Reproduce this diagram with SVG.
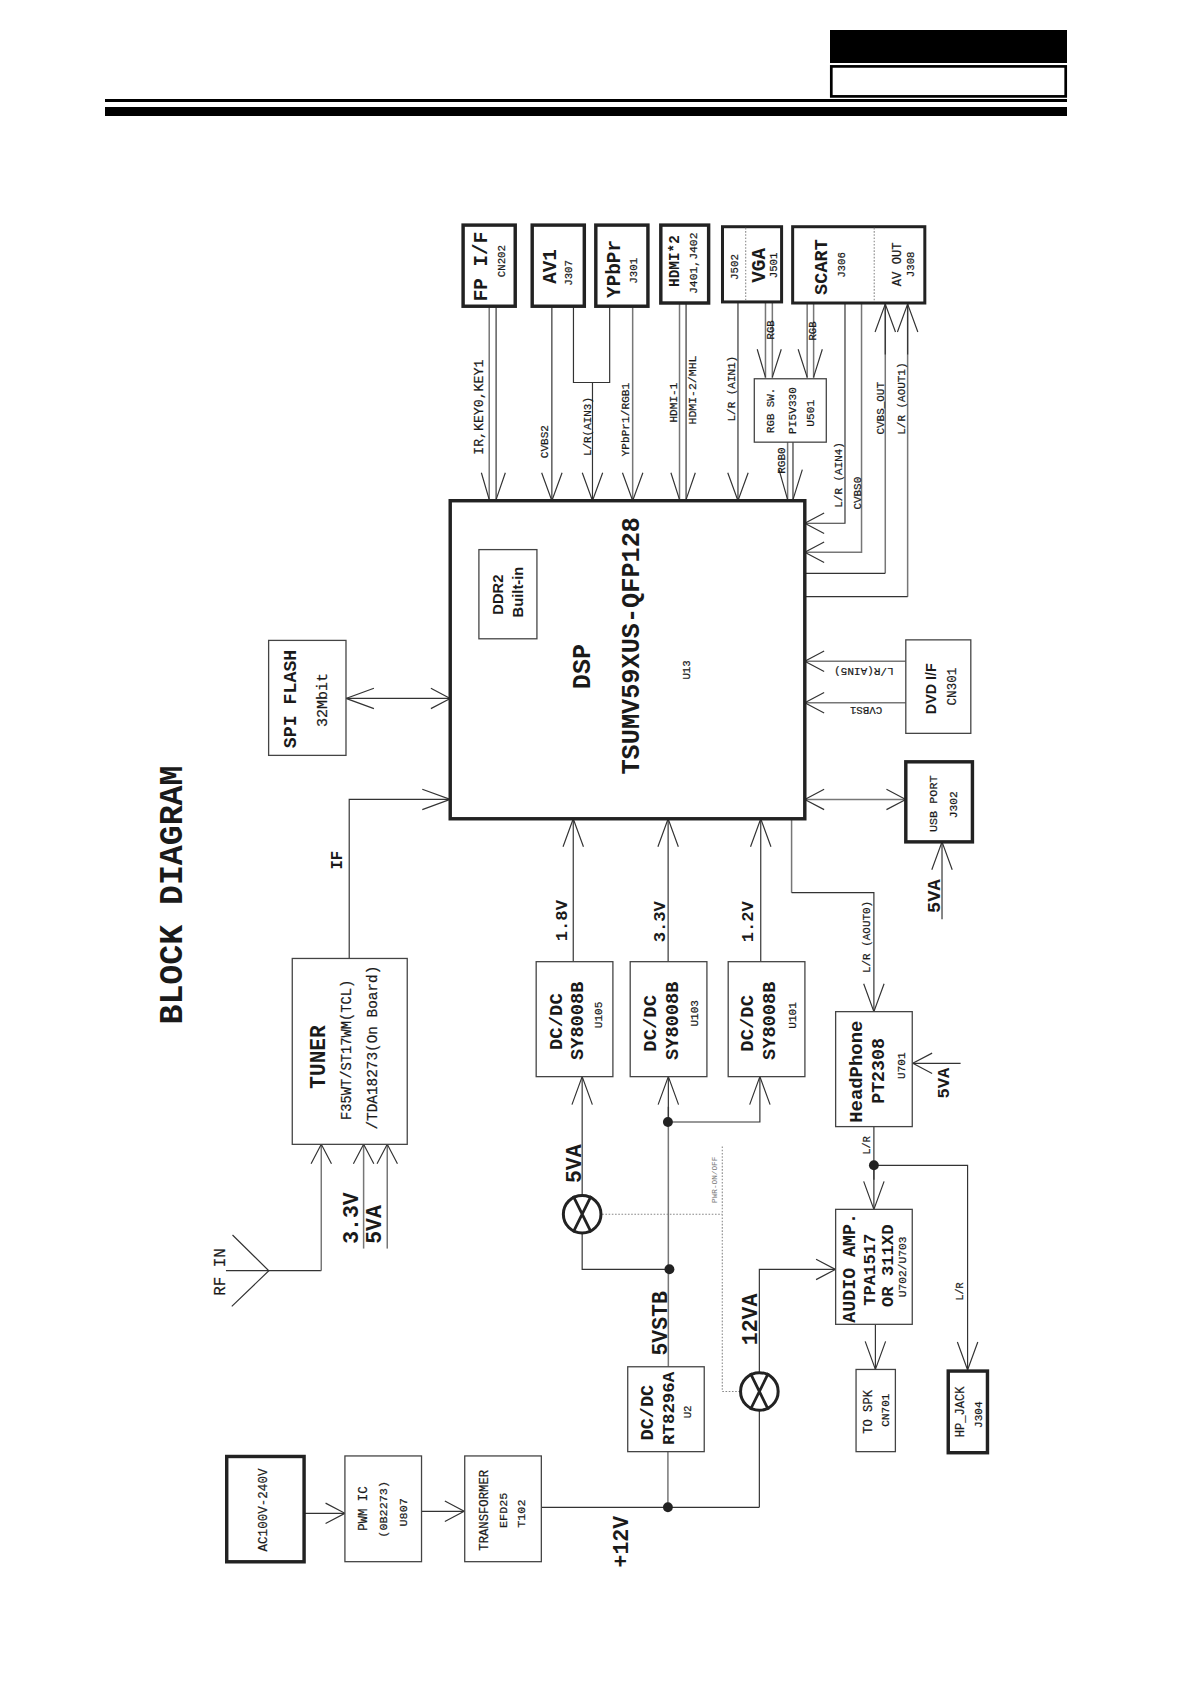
<svg xmlns="http://www.w3.org/2000/svg" width="1190" height="1684" viewBox="0 0 1190 1684">
<style>
text{font-family:"Liberation Mono","DejaVu Sans Mono",monospace;text-anchor:middle;fill:#1a1a1a;stroke:#1a1a1a;stroke-width:.2}
.b{font-weight:bold;stroke-width:0}
.s{font-family:"Liberation Sans",Arial,sans-serif;font-weight:bold;stroke-width:0}
.box{fill:#fff;stroke:#444;stroke-width:1.2}
.hv{fill:#fff;stroke:#222;stroke-width:3.2}
.c{fill:none;stroke:#333;stroke-width:1.1}
.g{fill:none;stroke:#777;stroke-width:1.4}
.ar{marker-end:url(#a)}
.as{marker-end:url(#b)}
.d{fill:none;stroke:#888;stroke-width:1;stroke-dasharray:1.5 1.5}
.j{fill:#222}
.sw{fill:#fff;stroke:#222;stroke-width:2.8}
.f{fill:#777;stroke-width:0}
</style>
<defs>
<marker id="a" markerUnits="userSpaceOnUse" viewBox="0 0 28 22" markerWidth="28" markerHeight="22" refX="27" refY="11" orient="auto-start-reverse"><path d="M1,1.5L27,11L1,20.5" fill="none" stroke="#333" stroke-width="1.1"/></marker>
<marker id="b" markerUnits="userSpaceOnUse" viewBox="0 0 20 22" markerWidth="20" markerHeight="22" refX="19" refY="11" orient="auto-start-reverse"><path d="M1,1.5L19,11L1,20.5" fill="none" stroke="#333" stroke-width="1.1"/></marker>
</defs>
<g id="header">
<rect x="830" y="30" width="237" height="33" fill="#000"/>
<rect x="831.3" y="66.4" width="234.4" height="30" fill="#fff" stroke="#000" stroke-width="2.7"/>
<rect x="105" y="99" width="962" height="3" fill="#000"/>
<rect x="105" y="107" width="962" height="9" fill="#000"/>
</g>
<g transform="scale(1.0745)">
<g id="connectors">
<path class="g" d="M455.3,285V466"/><path class="c" d="M461.7,285V466"/>
<path class="c" d="M448,440L455.3,465M470.3,440L461.7,465"/>
<path class="c ar" d="M513.6,285V466"/>
<path class="c" d="M533.7,285V356H567.4V285"/>
<path class="c ar" d="M551.4,356V466"/>
<path class="g ar" d="M588.8,285V466"/>
<path class="g" d="M632.4,282V466"/><path class="c" d="M638.5,282V466"/>
<path class="c" d="M624.4,440L632.4,465M647.1,440L638.5,465"/>
<path class="c ar" d="M686.8,281V466"/>
<path class="g" d="M712.4,281V352M718.8,281V352"/>
<path class="c" d="M704.7,325L712.4,351M727.1,325L718.8,351"/>
<path class="g" d="M751.2,282V352M757.2,282V352"/>
<path class="c" d="M742.8,325L751.2,351M765.3,325L757.2,351"/>
<path class="g" d="M733,411V466"/><path class="c" d="M738,411V466"/>
<path class="c" d="M725,437L733,465M746.7,437L738,465"/>
<path class="c as" d="M786.4,282V487H749"/>
<path class="g as" d="M801.8,282V514H749"/>
<path class="g" d="M823.9,533.6V283"/>
<path class="c" d="M749,533.6H823.9"/>
<path class="c ar" d="M823.9,330V283"/>
<path class="g" d="M844.7,283V555.3"/><path class="c" d="M844.7,555.3H749"/>
<path class="c ar" d="M844.7,330V283"/>
<path class="g as" d="M843,615.4H749"/>
<path class="g as" d="M843,654H749"/>
<path class="g" d="M843,744H749" style="marker-start:url(#b);marker-end:url(#b)"/>
<path class="c ar" d="M876.7,855.6V783.5"/>
<path class="c" d="M322,650H419" style="marker-start:url(#a);marker-end:url(#b)"/>
<path class="c" d="M325,892V744H419" style="marker-end:url(#a)"/>
<path class="c ar" d="M533.5,895V762"/>
<path class="c ar" d="M621.8,895V762"/>
<path class="c ar" d="M708,895V762"/>
<path class="g" d="M736.7,762V830.8"/>
<path class="c ar" d="M736.7,830.8H813.3V941.5"/>
<path class="c as" d="M894,989.6H849.5"/>
<path class="c ar" d="M541.8,1112V1002"/>
<path class="c" d="M541.8,1148V1181.3H622"/>
<path class="g" d="M622,1272V1030"/>
<path class="c ar" d="M622,1044V1002"/>
<path class="c ar" d="M622,1044.2H707.2V1002"/>
<path class="c" d="M813.3,1048.6V1098"/>
<path class="c ar" d="M813.3,1084.5V1125.5"/>
<path class="c ar" d="M813.3,1084.5H900.5V1275"/>
<path class="c ar" d="M814.7,1232.6V1274.4"/>
<path class="c as" d="M706.7,1277V1181.4H777.5"/>
<path class="c" d="M706.7,1313V1402.8"/>
<path class="c" d="M503.8,1402.8H706.7"/>
<path class="g" d="M621.6,1351V1402.8"/>
<path class="c as" d="M283,1408.4H321"/>
<path class="c as" d="M392.3,1406.5H432"/>
<path class="c" d="M210.3,1182.6H299"/>
<path class="c" d="M216.4,1149.4L250.2,1182.6L215.7,1215.8"/>
<path class="g as" d="M299,1182.6V1065"/>
<path class="g as" d="M338.4,1162V1065"/>
<path class="g as" d="M360.4,1162V1065"/>
<path class="d" d="M560.4,1130H672.2M672.2,1067V1295H688"/>
<circle class="j" cx="621.6" cy="1044.2" r="4.6"/>
<circle class="j" cx="623" cy="1181.3" r="4.6"/>
<circle class="j" cx="621.6" cy="1402.8" r="4.6"/>
<circle class="j" cx="813.3" cy="1084.5" r="4.6"/>
</g>
<g id="fp-if"><rect class="hv" x="431" y="209.5" width="48.5" height="75.5"/>
<text class="b" font-size="18" transform="translate(453.4 248) rotate(-90)">FP I/F</text>
<text font-size="10" transform="translate(469.7 243) rotate(-90)">CN202</text></g>
<g id="av1"><rect class="hv" x="495.3" y="209.5" width="48.5" height="75.5"/>
<text class="b" font-size="18" transform="translate(517.4 248) rotate(-90)">AV1</text>
<text font-size="10" transform="translate(532 254) rotate(-90)">J307</text></g>
<g id="ypbpr"><rect class="hv" x="554.5" y="209.5" width="48.5" height="75.5"/>
<text class="b" font-size="18" transform="translate(577 250.3) rotate(-90)">YPbPr</text>
<text font-size="10" transform="translate(593 252) rotate(-90)">J301</text></g>
<g id="hdmi"><rect class="hv" x="615" y="209.5" width="44.5" height="72.5"/>
<text class="b" font-size="13.4" transform="translate(632 243) rotate(-90)">HDMI*2</text>
<text font-size="10.6" transform="translate(649 245) rotate(-90)">J401,J402</text></g>
<g id="vga"><rect class="sw" x="672.4" y="211" width="55" height="70"/>
<path class="d" d="M694,212V280"/>
<text font-size="10" transform="translate(686.5 248.5) rotate(-90)">J502</text>
<text class="b" font-size="18" transform="translate(711.5 247) rotate(-90)">VGA</text>
<text font-size="10" transform="translate(723 247) rotate(-90)">J501</text></g>
<g id="scart"><rect class="sw" x="737.7" y="211" width="123" height="71"/>
<path class="d" d="M813.6,212V281"/>
<text class="b" font-size="17.3" transform="translate(769.7 248.5) rotate(-90)">SCART</text>
<text font-size="10" transform="translate(786.7 246.6) rotate(-90)">J306</text>
<text font-size="11.4" transform="translate(838.6 246) rotate(-90)">AV OUT</text>
<text font-size="10" transform="translate(850.4 246) rotate(-90)">J308</text></g>
<g id="rgb-sw"><rect class="box" x="702" y="352.5" width="67" height="59"/>
<text font-size="10" transform="translate(720.7 382) rotate(-90)">RGB SW.</text>
<text font-size="10.4" transform="translate(741 382) rotate(-90)">PI5V330</text>
<text font-size="10.4" transform="translate(758 384.6) rotate(-90)">U501</text></g>
<g id="dsp"><rect class="hv" x="419" y="466" width="330" height="296" stroke-width="3.6"/>
<rect class="box" x="445.7" y="511.5" width="54" height="83"/>
<text class="s" font-size="13.7" transform="translate(468 553.4) rotate(-90)">DDR2</text>
<text class="s" font-size="13.7" transform="translate(486.7 551) rotate(-90)">Built-in</text>
<text class="b" font-size="23.3" transform="translate(549 620.4) rotate(-90)">DSP</text>
<text class="b" font-size="23.5" transform="translate(595 601) rotate(-90)">TSUMV59XUS-QFP128</text>
<text font-size="10" transform="translate(641.7 623.5) rotate(-90)">U13</text></g>
<g id="spi-flash"><rect class="box" x="250" y="596" width="72" height="107"/>
<text class="b" font-size="17" transform="translate(275.4 650.5) rotate(-90)">SPI FLASH</text>
<text font-size="14" transform="translate(304.6 651.4) rotate(-90)">32Mbit</text></g>
<g id="tuner"><rect class="box" x="272" y="892" width="107" height="173"/>
<text class="b" font-size="19.7" transform="translate(302.4 983.7) rotate(-90)">TUNER</text>
<text font-size="12.8" transform="translate(326.6 977) rotate(-90)">F35WT/ST17WM(TCL)</text>
<text font-size="13.4" transform="translate(350.5 975) rotate(-90)">/TDA18273(On Board)</text></g>
<g id="dvd-if"><rect class="box" x="843" y="595.5" width="60.5" height="87"/>
<text class="s" font-size="13.3" transform="translate(870.7 641) rotate(-90)">DVD I/F</text>
<text font-size="11.7" transform="translate(890 639) rotate(-90)">CN301</text></g>
<g id="usb-port"><rect class="hv" x="843" y="709" width="62" height="74.5"/>
<text font-size="11" transform="translate(872 748) rotate(-90)">USB PORT</text>
<text font-size="10.5" transform="translate(890.7 749) rotate(-90)">J302</text></g>
<g id="u105"><rect class="box" x="499" y="895" width="71.4" height="107"/>
<text class="b" font-size="17.6" transform="translate(522.6 950.8) rotate(-90)">DC/DC</text>
<text class="b" font-size="17.4" transform="translate(542.4 950) rotate(-90)">SY8008B</text>
<text font-size="10.3" transform="translate(559.8 944.6) rotate(-90)">U105</text></g>
<g id="u103"><rect class="box" x="586.5" y="895" width="71.4" height="107"/>
<text class="b" font-size="17.6" transform="translate(610.7 952.4) rotate(-90)">DC/DC</text>
<text class="b" font-size="17.4" transform="translate(631.2 950) rotate(-90)">SY8008B</text>
<text font-size="10.3" transform="translate(649.5 943) rotate(-90)">U103</text></g>
<g id="u101"><rect class="box" x="677.7" y="895" width="71.4" height="107"/>
<text class="b" font-size="17.6" transform="translate(700.7 952.4) rotate(-90)">DC/DC</text>
<text class="b" font-size="17.4" transform="translate(720.9 950) rotate(-90)">SY8008B</text>
<text font-size="10.3" transform="translate(740.4 945) rotate(-90)">U101</text></g>
<g id="headphone"><rect class="box" x="777.7" y="941.5" width="71.3" height="107"/>
<text class="b" font-size="17.6" transform="translate(801.9 997.4) rotate(-90)">HeadPhone</text>
<text class="b" font-size="17" transform="translate(822.7 996.7) rotate(-90)">PT2308</text>
<text font-size="10.3" transform="translate(841.9 991.8) rotate(-90)">U701</text></g>
<g id="audio-amp"><rect class="box" x="777.7" y="1125.5" width="71.3" height="107"/>
<text class="b" font-size="17" transform="translate(795.7 1180) rotate(-90)">AUDIO AMP.</text>
<text class="b" font-size="16" transform="translate(814.4 1181.7) rotate(-90)">TPA1517</text>
<text class="b" font-size="16" transform="translate(830.8 1178) rotate(-90)">OR 311XD</text>
<text font-size="10.5" transform="translate(842.9 1179) rotate(-90)">U702/U703</text></g>
<g id="to-spk"><rect class="box" x="796.7" y="1274.5" width="36.6" height="76.5"/>
<text font-size="11.3" transform="translate(811.9 1314) rotate(-90)">TO SPK</text>
<text font-size="10.3" transform="translate(827.4 1312.3) rotate(-90)">CN701</text></g>
<g id="hp-jack"><rect class="hv" x="882.5" y="1276" width="36.5" height="76"/>
<text font-size="11.3" transform="translate(897.5 1314) rotate(-90)">HP_JACK</text>
<text font-size="10.3" transform="translate(913.6 1316.6) rotate(-90)">J304</text></g>
<g id="u2"><rect class="box" x="584.2" y="1272" width="71.2" height="79"/>
<text class="b" font-size="17.3" transform="translate(608.1 1314.7) rotate(-90)">DC/DC</text>
<text class="b" font-size="16.2" transform="translate(627.7 1310.7) rotate(-90)">RT8296A</text>
<text font-size="10" transform="translate(643 1314) rotate(-90)">U2</text></g>
<g id="ac-input"><rect class="hv" x="211" y="1355.5" width="72" height="98" stroke-width="3.4"/>
<text font-size="11.7" transform="translate(248.4 1405.3) rotate(-90)">AC100V-240V</text></g>
<g id="pwm-ic"><rect class="box" x="321" y="1355" width="71.3" height="98.4"/>
<text font-size="11.5" transform="translate(341.7 1404) rotate(-90)">PWM IC</text>
<text font-size="11" transform="translate(360.6 1404.7) rotate(-90)">(0B2273)</text>
<text font-size="11" transform="translate(378.4 1407.5) rotate(-90)">U807</text></g>
<g id="transformer"><rect class="box" x="432.5" y="1355" width="71.3" height="98.4"/>
<text font-size="11.4" transform="translate(454.2 1405.6) rotate(-90)">TRANSFORMER</text>
<text font-size="11" transform="translate(472 1405.6) rotate(-90)">EFD25</text>
<text font-size="11" transform="translate(488.8 1408.7) rotate(-90)">T102</text></g>
<g id="switch-5va"><circle cx="541.8" cy="1130" r="17.5" fill="#fff" stroke="#222" stroke-width="2.8"/>
<path d="M533.4,1113L550.2,1147M550.2,1113L533.4,1147" fill="none" stroke="#222" stroke-width="2.6"/></g>
<g id="switch-12va"><circle cx="706.7" cy="1295" r="17.5" fill="#fff" stroke="#222" stroke-width="2.8"/>
<path d="M698.3,1278L715.1,1312M715.1,1278L698.3,1312" fill="none" stroke="#222" stroke-width="2.6"/></g>
<g id="labels">
<text class="b" font-size="30.9" transform="translate(169.4 833) rotate(-90)">BLOCK DIAGRAM</text>
<text font-size="14.7" transform="translate(209.2 1183.8) rotate(-90)">RF IN</text>
<text class="b" font-size="14.7" transform="translate(318 800.5) rotate(-90)">IF</text>
<text class="b" font-size="20" transform="translate(333.4 1133.6) rotate(-90)">3.3V</text>
<text class="b" font-size="20" transform="translate(355 1139.6) rotate(-90)">5VA</text>
<text font-size="12.3" transform="translate(449.5 379) rotate(-90)">IR,KEY0,KEY1</text>
<text font-size="10.3" transform="translate(510.4 411) rotate(-90)">CVBS2</text>
<text font-size="10.2" transform="translate(549.8 397) rotate(-90)">L/R(AIN3)</text>
<text font-size="10.4" transform="translate(585.6 390.5) rotate(-90)">YPbPr1/RGB1</text>
<text font-size="10.3" transform="translate(630 374.7) rotate(-90)">HDMI-1</text>
<text font-size="10.7" transform="translate(648 363) rotate(-90)">HDMI-2/MHL</text>
<text font-size="10.2" transform="translate(684 361.7) rotate(-90)">L/R (AIN1)</text>
<text font-size="10" transform="translate(720 307) rotate(-90)">RGB</text>
<text font-size="10" transform="translate(759 308) rotate(-90)">RGB</text>
<text font-size="10.3" transform="translate(731 428.6) rotate(-90)">RGB0</text>
<text font-size="10.2" transform="translate(784 442) rotate(-90)">L/R (AIN4)</text>
<text font-size="10.2" transform="translate(801 459) rotate(-90)">CVBS0</text>
<text font-size="10.2" transform="translate(822.6 380) rotate(-90)">CVBS_OUT</text>
<text font-size="10.2" transform="translate(841.8 371) rotate(-90)">L/R (AOUT1)</text>
<text font-size="10.3" transform="translate(804 621.3) rotate(180)">L/R(AIN5)</text>
<text font-size="10" transform="translate(806 658) rotate(180)">CVBS1</text>
<text class="b" font-size="16" transform="translate(527.9 856.8) rotate(-90)">1.8V</text>
<text class="b" font-size="16" transform="translate(618.8 857.8) rotate(-90)">3.3V</text>
<text class="b" font-size="16" transform="translate(700.7 857.8) rotate(-90)">1.2V</text>
<text class="b" font-size="17.5" transform="translate(875 834) rotate(-90)">5VA</text>
<text font-size="10.2" transform="translate(810 872) rotate(-90)">L/R (AOUT0)</text>
<text class="b" font-size="16" transform="translate(883.2 1008) rotate(-90)">5VA</text>
<text font-size="9.5" transform="translate(809.6 1066) rotate(-90)">L/R</text>
<text font-size="9.5" transform="translate(896.6 1201.9) rotate(-90)">L/R</text>
<text class="b" font-size="20" transform="translate(540.3 1083) rotate(-90)">5VA</text>
<text class="f" font-size="7.2" transform="translate(667.5 1098) rotate(-90)">PWR-ON/OFF</text>
<text class="b" font-size="20" transform="translate(704.9 1228) rotate(-90)">12VA</text>
<text class="b" font-size="20" transform="translate(620.5 1231.6) rotate(-90)">5VSTB</text>
<text class="b" font-size="20" transform="translate(584.2 1434.8) rotate(-90)">+12V</text>
</g>
</g>
</svg>
